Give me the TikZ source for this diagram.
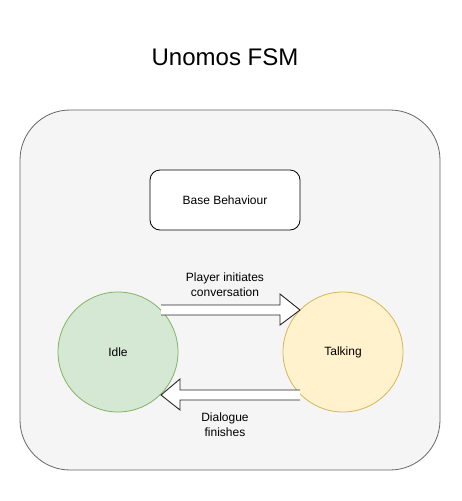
\documentclass[tikz,border=0pt]{standalone}
\usepackage{fontspec}
\setmainfont{Liberation Sans}
\definecolor{outerfill}{HTML}{F5F5F5}
\definecolor{outerdraw}{HTML}{666666}
\definecolor{idlefill}{HTML}{D5E8D4}
\definecolor{idledraw}{HTML}{82B366}
\definecolor{talkfill}{HTML}{FFF2CC}
\definecolor{talkdraw}{HTML}{D6B656}
\begin{document}
\begin{tikzpicture}[x=1pt,y=-1pt,
  statecirc/.style={circle,minimum size=120pt,inner sep=0pt,line width=0.8pt,font=\fontsize{12}{14}\selectfont},
  blockarrow/.style={draw=black!85,fill=white,line width=0.9pt,line join=miter},
  lbl/.style={align=center,font=\fontsize{12}{15}\selectfont}]
\useasboundingbox (0,0) rectangle (461,501);
\node (title) at (225,57) {\fontsize{24}{28}\selectfont Unomos FSM};
\draw[fill=outerfill,draw=outerdraw,line width=0.8pt,rounded corners=50pt] (20,110) rectangle (440,470);
\node (base) [draw=black,fill=white,rounded corners=10pt,line width=0.8pt,minimum width=150pt,minimum height=60pt,font=\fontsize{12}{14}\selectfont] at (225,200) {Base Behaviour};
\node (idle) [statecirc,fill=idlefill,draw=idledraw] at (118,352) {Idle};
\node (talk) [statecirc,fill=talkfill,draw=talkdraw] at (343,352) {Talking};
\draw[blockarrow] (161,305) -- (280,305) -- (280,294) -- (300,310) -- (280,325) -- (280,315) -- (161,315);
\draw[blockarrow] (300,390) -- (180,390) -- (180,379) -- (161,395) -- (180,410) -- (180,400) -- (300,400);
\node (lbltop) [lbl] at (225,285) {Player initiates\\conversation};
\node (lblbot) [lbl] at (225,425) {Dialogue\\finishes};
\end{tikzpicture}
\end{document}
